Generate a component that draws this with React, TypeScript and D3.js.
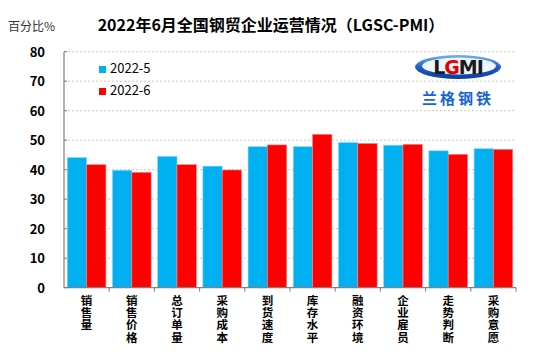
import * as d3 from 'd3';

const categories = ['销售量', '销售价格', '总订单量', '采购成本', '到货速度', '库存水平', '融资环境', '企业雇员', '走势判断', '采购意愿'];
const seriesNames = ['2022-5', '2022-6'];
const may = [44.1, 39.8, 44.5, 41.2, 47.8, 47.8, 49.2, 48.3, 46.4, 47.1];
const june = [41.7, 39.1, 41.7, 39.9, 48.4, 52.0, 48.9, 48.6, 45.2, 46.9];
const yTicks = [0, 10, 20, 30, 40, 50, 60, 70, 80];

const W = 554;
const H = 361;
const colors = ['#00B0F0', '#FF0000'];
const font = '"Noto Sans CJK SC", "Noto Sans", sans-serif';

export default function App() {
  const x = d3.scaleBand().domain(categories).range([64, 516]).paddingInner(0).paddingOuter(0);
  const y = d3.scaleLinear().domain([0, 80]).range([287.7, 51.7]);
  const inner = d3.scaleBand().domain(seriesNames).range([0, x.bandwidth()]).paddingInner(0).paddingOuter(0.17);
  const values = [may, june];

  return (
    <div style={{ position: 'fixed', left: 0, top: 0 }}>
      <svg width={W} height={H} style={{ display: 'block', background: '#fff' }} fontFamily={font}>
        <text x={271} y={31} textAnchor="middle" fontSize={16} fontWeight="bold" fill="#000">
          2022年6月全国钢贸企业运营情况（LGSC-PMI）
        </text>
        <text x={8} y={31} fontSize={12} fill="#333">百分比%</text>

        {/* gridlines */}
        {yTicks.filter((t) => t > 0).map((t) => (
          <line key={t} x1={64} x2={516} y1={y(t)} y2={y(t)} stroke="#c8c8c8" strokeDasharray="2,2" strokeWidth={1} />
        ))}

        {/* bars */}
        {values.map((vals, si) =>
          categories.map((c, i) => (
            <rect
              key={`${si}-${c}`}
              x={x(c)! + inner(seriesNames[si])!}
              y={y(vals[i])}
              width={inner.bandwidth()}
              height={y(0) - y(vals[i])}
              fill={colors[si]}
              stroke={si === 0 ? '#7fd6f7' : '#ff8080'}
              strokeWidth={0.6}
            />
          ))
        )}

        {/* y axis */}
        <line x1={64} x2={64} y1={y(80)} y2={y(0)} stroke="#808080" strokeWidth={1.2} />
        {yTicks.map((t) => (
          <g key={t}>
            <line x1={64} x2={67} y1={y(t)} y2={y(t)} stroke="#808080" />
            <text x={45} y={y(t) + 5} textAnchor="end" fontSize={13} fontWeight="bold" fill="#000">{t}</text>
          </g>
        ))}

        {/* x axis */}
        <line x1={64} x2={516} y1={y(0)} y2={y(0)} stroke="#808080" strokeWidth={1.2} />
        {categories.map((c) => (
          <line key={c} x1={x(c)! + x.bandwidth()} x2={x(c)! + x.bandwidth()} y1={y(0)} y2={y(0) + 4} stroke="#808080" />
        ))}
        {categories.map((c) => (
          <text key={c} x={x(c)! + x.bandwidth() / 2} textAnchor="middle" fontSize={11.5} fontWeight="bold" fill="#000">
            {Array.from(c).map((ch, k) => (
              <tspan key={k} x={x(c)! + x.bandwidth() / 2} y={305 + k * 12.2}>{ch}</tspan>
            ))}
          </text>
        ))}

        {/* legend */}
        {seriesNames.map((s, i) => (
          <g key={s} transform={`translate(99, ${66 + i * 22})`}>
            <rect width={7} height={7} fill={colors[i]} />
            <text x={11} y={7} fontSize={13} fill="#000">{s}</text>
          </g>
        ))}

        {/* logo */}
        <defs>
          <linearGradient id="ring" x1="0" y1="0" x2="0" y2="1">
            <stop offset="0" stopColor="#6fb6f0" />
            <stop offset="0.5" stopColor="#1f5fc8" />
            <stop offset="1" stopColor="#0a3c9a" />
          </linearGradient>
        </defs>
        <ellipse cx={458} cy={67} rx={43} ry={12} fill="url(#ring)" />
        <ellipse cx={459} cy={66} rx={37} ry={8.5} fill="#eef5fc" />
        <text x={458} y={74} textAnchor="middle" fontSize={19} fontWeight="bold" fontFamily='"DejaVu Sans", sans-serif' fill="#1a1a1a" letterSpacing={-1}>
          L<tspan fill="#e00000">G</tspan>MI
        </text>
        <text x={458} y={104} textAnchor="middle" fontSize={15} fontWeight="bold" fill="#1565d8" letterSpacing={3}>兰格钢铁</text>
      </svg>
    </div>
  );
}
